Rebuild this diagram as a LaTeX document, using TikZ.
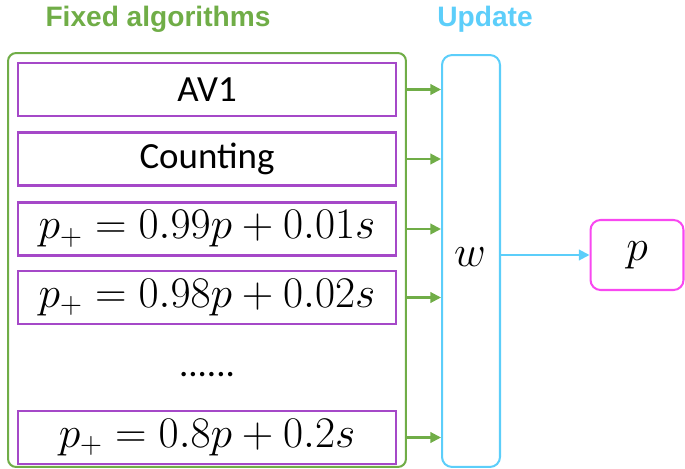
\documentclass[tikz,border=0pt]{standalone}
\usepackage{fontspec}
\setmainfont{Carlito}
\newfontfamily\headfont{Liberation Sans}
\usetikzlibrary{arrows.meta,positioning}

\definecolor{algogreen}{RGB}{112,173,71}
\definecolor{algopurple}{RGB}{165,72,200}
\definecolor{updblue}{RGB}{92,206,250}
\definecolor{outpink}{RGB}{248,72,240}

\tikzset{
  algobox/.style={draw=algopurple, line width=1.15pt, minimum width=7.56cm,
                  minimum height=1.06cm, inner sep=0pt,
                  font=\fontsize{21}{25}\selectfont},
  mathtxt/.style={font=\fontsize{24}{28}\selectfont},
  headline/.style={font=\headfont\bfseries\fontsize{16}{19}\selectfont},
}

\begin{document}
\begin{tikzpicture}[x=0.02cm, y=-0.02cm, >={Triangle[length=6pt,width=6pt]}]
  \useasboundingbox (0,0) rectangle (685,469);

  %--- outer boxes
  \node[draw=algogreen, line width=1.15pt, rounded corners=0.16cm,
        minimum width=7.96cm, minimum height=8.28cm] (fixed) at (207,260) {};
  \node[draw=updblue, line width=1.15pt, rounded corners=0.2cm,
        minimum width=1.16cm, minimum height=8.24cm] (upd) at (471,261) {};
  \node[draw=outpink, line width=1.15pt, rounded corners=0.2cm,
        minimum width=1.86cm, minimum height=1.4cm, mathtxt] (out) at (637,255) {$p$};

  %--- headings
  \node[headline, text=algogreen] (fixedlbl) at (158,19) {Fixed algorithms};
  \node[headline, text=updblue] (updlbl) at (485,19) {Update};

  %--- fixed algorithms
  \node[algobox] (av1) at (207,89.5) {AV1};
  \node[algobox] (count) at (207,159) {Counting};
  \node[algobox, mathtxt] (ema1) at (207,229) {$p_+ = 0.99p + 0.01s$};
  \node[algobox, mathtxt] (ema2) at (207,297.5) {$p_+ = 0.98p + 0.02s$};
  \node[font=\fontsize{21}{25}\selectfont] (dots) at (207,375) {......};
  \node[algobox, mathtxt] (ema3) at (207,437.5) {$p_+ = 0.8p + 0.2s$};

  \node[mathtxt] (w) at (470,257) {$w$};

  %--- connectors
  \foreach \n in {av1,count,ema1,ema2,ema3}
    \draw[->, algogreen, line width=1.15pt] (fixed.east |- \n) -- (upd.west |- \n);
  \draw[->, updblue, line width=1.15pt] (upd.east |- out) -- (out.west);
\end{tikzpicture}
\end{document}
